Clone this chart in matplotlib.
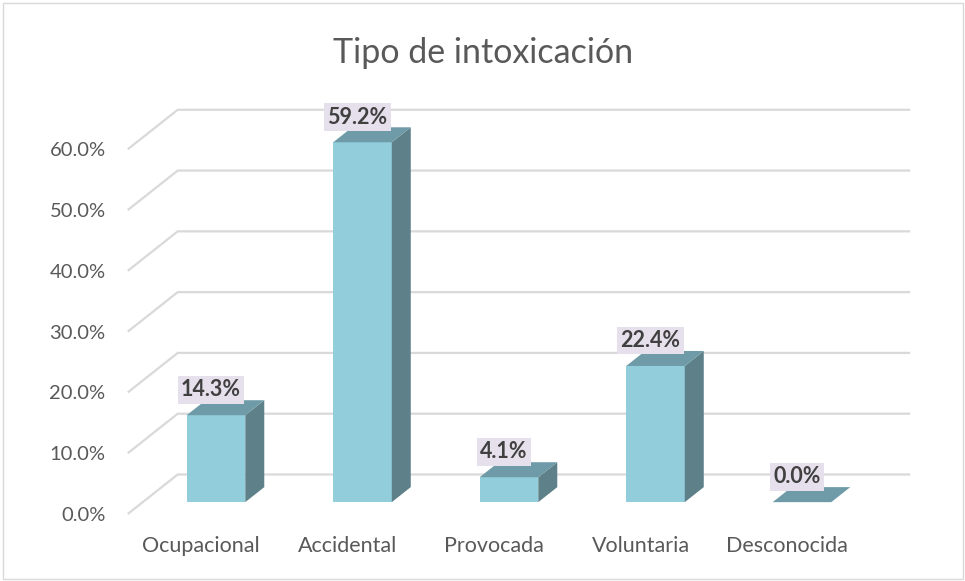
import matplotlib.pyplot as plt
from matplotlib.patches import Polygon, Rectangle

categorias = ['Ocupacional', 'Accidental', 'Provocada', 'Voluntaria', 'Desconocida']
porcentajes = [14.3, 59.2, 4.1, 22.4, 0.0]
ticks_y = [0, 10, 20, 30, 40, 50, 60]

plt.rcParams['font.family'] = ['Lato', 'DejaVu Sans']

# colores estilo Excel 3D
c_frente = '#92CDDC'
c_lado = '#5E8189'
c_tope = '#6E9BA7'
c_grid = '#D9D9D9'
c_texto = '#595959'

# profundidad del "3D" en unidades de datos
DX, DY = 0.341, 6.5
d0, d1 = 0.30, 0.68
ancho = 0.40

def P(x, y, d):
    return (x + d * DX, y + d * DY)

fig = plt.figure(figsize=(9.65, 5.81), dpi=100)
ax = fig.add_axes([127.75 / 965, 67 / 581, 732.5 / 965, 425.5 / 581])
ax.set_xlim(-0.5, 4.5)
ax.set_ylim(0, 70)
for s in ax.spines.values():
    s.set_visible(False)

# rejilla: pared lateral + pared del fondo
for t in ticks_y:
    xs = [-0.5, -0.5 + DX, 4.5 + DX]
    ys = [t, t + DY, t + DY]
    ax.plot(xs, ys, color=c_grid, lw=1.6, zorder=1, clip_on=False,
            solid_capstyle='butt')

for i, v in enumerate(porcentajes):
    l, r = i - ancho / 2, i + ancho / 2
    frente = [P(l, 0, d0), P(r, 0, d0), P(r, v, d0), P(l, v, d0)]
    lado = [P(r, 0, d0), P(r, 0, d1), P(r, v, d1), P(r, v, d0)]
    tope = [P(l, v, d0), P(r, v, d0), P(r, v, d1), P(l, v, d1)]
    if v > 0:
        ax.add_patch(Polygon(frente, closed=True, fc=c_frente, ec='none', zorder=3, clip_on=False))
        ax.add_patch(Polygon(lado, closed=True, fc=c_lado, ec='none', zorder=3, clip_on=False))
    ax.add_patch(Polygon(tope, closed=True, fc=c_tope, ec='none', zorder=3, clip_on=False))
    ax.text(i + 0.068, v + 6.1, f'{v:.1f}%', ha='center', va='center',
            fontsize=15.5, fontweight='bold', color='#404040', zorder=5,
            bbox=dict(boxstyle='square,pad=0.15', fc='#E6E0EC', ec='none'))

ax.set_yticks(ticks_y)
ax.set_yticklabels([f'{t:.1f}%' for t in ticks_y])
ax.set_xticks(range(len(categorias)))
ax.set_xticklabels(categorias)
ax.tick_params(axis='y', length=0, pad=16, labelsize=14.5, labelcolor=c_texto)
ax.tick_params(axis='x', length=0, pad=16, labelsize=15.5, labelcolor=c_texto)

fig.text(0.5005, (581 - 63) / 581, 'Tipo de intoxicación', ha='center',
         va='baseline', fontsize=24.5, color=c_texto)

# borde del gráfico
fig.patches.append(Rectangle((3 / 965, 2 / 581), 960 / 965, 576 / 581,
                             transform=fig.transFigure, fill=False,
                             ec=c_grid, lw=1))

fig.savefig('out.png', dpi=100)
